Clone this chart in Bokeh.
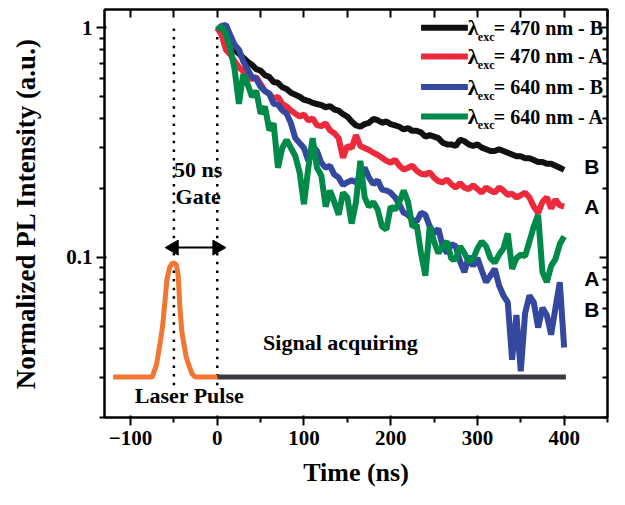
import math
import numpy as np
from bokeh.plotting import figure
from bokeh.models import (Range1d, FixedTicker, LinearAxis, LogAxis, Label)
from bokeh.embed import file_html
from bokeh.resources import INLINE

# ---------------- data ----------------
t = list(range(0, 401, 5))

b470 = [1.00, 0.95, 0.90, 0.86, 0.80, 0.77, 0.74, 0.71, 0.69, 0.66,
        0.65, 0.62, 0.61, 0.58, 0.575, 0.55, 0.54, 0.52, 0.51, 0.50,
        0.485, 0.48, 0.47, 0.465, 0.46, 0.45, 0.455, 0.44, 0.435, 0.42,
        0.41, 0.39, 0.375, 0.37, 0.38, 0.385, 0.40, 0.395, 0.385, 0.39,
        0.38, 0.375, 0.37, 0.36, 0.365, 0.355, 0.355, 0.35, 0.335, 0.34,
        0.335, 0.33, 0.315, 0.31, 0.31, 0.305, 0.325, 0.32, 0.31, 0.305,
        0.31, 0.30, 0.295, 0.29, 0.29, 0.295, 0.29, 0.285, 0.28, 0.275,
        0.275, 0.27, 0.27, 0.265, 0.26, 0.26, 0.255, 0.255, 0.25, 0.245,
        0.24]

a470 = [0.997, 0.93, 0.802, 0.764, 0.713, 0.672, 0.646, 0.609, 0.597, 0.609,
        0.568, 0.53, 0.515, 0.49, 0.50, 0.466, 0.453, 0.436, 0.422, 0.41,
        0.418, 0.394, 0.402, 0.376, 0.372, 0.383, 0.357, 0.347, 0.33, 0.271,
        0.305, 0.299, 0.34, 0.305, 0.299, 0.293, 0.285, 0.279, 0.271, 0.263,
        0.258, 0.266, 0.25, 0.241, 0.245, 0.25, 0.238, 0.231, 0.229, 0.234,
        0.222, 0.214, 0.212, 0.218, 0.2075, 0.201, 0.21, 0.201, 0.198, 0.2055,
        0.198, 0.191, 0.201, 0.195, 0.191, 0.201, 0.195, 0.187, 0.189, 0.182,
        0.186, 0.191, 0.182, 0.166, 0.156, 0.174, 0.182, 0.163, 0.178, 0.168,
        0.166]

b640 = [0.978, 1.017, 1.027, 0.93, 0.843, 0.802, 0.713, 0.659, 0.609, 0.597,
        0.552, 0.53, 0.515, 0.466, 0.462, 0.436, 0.422, 0.383, 0.33, 0.314,
        0.299, 0.263, 0.305, 0.29, 0.258, 0.245, 0.25, 0.229, 0.222, 0.206,
        0.212, 0.216, 0.212, 0.227, 0.245, 0.222, 0.208, 0.216, 0.197, 0.195,
        0.191, 0.182, 0.17, 0.156, 0.153, 0.145, 0.143, 0.156, 0.153, 0.136,
        0.127, 0.133, 0.1115, 0.104, 0.114, 0.1115, 0.0957, 0.086, 0.101, 0.0915,
        0.099, 0.0875, 0.0778, 0.083, 0.0889, 0.0752, 0.068, 0.0635, 0.0357, 0.0559,
        0.0318, 0.057, 0.068, 0.0635, 0.0493, 0.0601, 0.0559, 0.0459, 0.0601, 0.0778,
        0.0404]

a640 = [0.978, 1.017, 0.93, 0.818, 0.659, 0.466, 0.627, 0.568, 0.50, 0.53,
        0.422, 0.453, 0.357, 0.383, 0.245, 0.299, 0.324, 0.299, 0.276, 0.234,
        0.17, 0.245, 0.33, 0.245, 0.227, 0.166, 0.195, 0.174, 0.153, 0.191,
        0.182, 0.14, 0.174, 0.263, 0.182, 0.166, 0.174, 0.161, 0.136, 0.132,
        0.166, 0.161, 0.174, 0.195, 0.174, 0.136, 0.138, 0.104, 0.083, 0.136,
        0.117, 0.104, 0.1115, 0.117, 0.098, 0.098, 0.1115, 0.104, 0.0957, 0.098,
        0.109, 0.117, 0.1115, 0.099, 0.0945, 0.1025, 0.109, 0.127, 0.0889, 0.099,
        0.1025, 0.101, 0.117, 0.136, 0.153, 0.086, 0.0778, 0.0915, 0.098, 0.114,
        0.123]

pulse_t = [-120, -75, -70, -66, -63, -60, -58, -55, -52, -49,
           -47, -45, -43, -41, -39, -36, -33, -29, -25, 0]
pulse_y = [0.030, 0.030, 0.034, 0.042, 0.050, 0.066, 0.080, 0.090, 0.094, 0.094,
           0.092, 0.083, 0.060, 0.048, 0.043, 0.037, 0.034, 0.031, 0.030, 0.030]

acq_t = [0, 402]
acq_y = [0.030, 0.030]

gate_t = [-50, 0]
gate_lo, gate_hi = 0.028, 0.98
gate_arrow_y = 0.11

legend_labels = ["= 470 nm - B", "= 470 nm - A", "= 640 nm - B", "= 640 nm - A"]
legend_y = [1.0, 0.749, 0.551, 0.41]
series = [b470, a470, b640, a640]
colors = ["#111111", "#ec2a3c", "#3548a0", "#008a4a"]
widths = [6, 6, 6, 6]

ab_text = ["B", "A", "A", "B"]
ab_y = [0.248, 0.166, 0.0806, 0.0592]

x_ticks = [-100, 0, 100, 200, 300, 400]
x_minor = [-150, -50, 50, 150, 250, 350, 450]
y_ticks = [0.1, 1]
y_minor = [0.02, 0.03, 0.04, 0.05, 0.06, 0.07, 0.08, 0.09,
           0.2, 0.3, 0.4, 0.5, 0.6, 0.7, 0.8, 0.9]

SERIF = "Liberation Serif"

# ---------------- figure ----------------
p = figure(width=609, height=489, x_range=Range1d(-130, 450), y_range=Range1d(0.02, 1.2),
           y_axis_type="log", output_backend="svg", toolbar_location=None,
           min_border_left=104, min_border_right=2, min_border_top=9, min_border_bottom=69)
p.grid.visible = False
p.outline_line_color = "black"
p.outline_line_width = 2

p.xaxis.ticker = FixedTicker(ticks=x_ticks, minor_ticks=x_minor)
p.yaxis.ticker = FixedTicker(ticks=y_ticks, minor_ticks=y_minor)
p.yaxis.major_label_overrides = {0.1: "0.1", 1: "1"}
p.xaxis.axis_label = "Time (ns)"
p.yaxis.axis_label = "Normalized PL Intensity (a.u.)"
p.axis.axis_line_width = 2
p.axis.major_tick_line_width = 2
p.axis.minor_tick_line_width = 2
p.axis.major_tick_out = 8
p.axis.minor_tick_out = 5
p.axis.major_label_text_font = SERIF
p.axis.major_label_text_font_style = "bold"
p.axis.major_label_text_font_size = "21px"
p.axis.major_label_text_color = "black"
p.axis.axis_label_text_font = SERIF
p.axis.axis_label_text_font_style = "bold"
p.axis.axis_label_text_color = "black"
p.xaxis.axis_label_text_font_size = "26px"
p.yaxis.axis_label_text_font_size = "27px"
p.xaxis.major_label_standoff = 5
p.xaxis.axis_label_standoff = 10
p.yaxis.major_label_standoff = 4
p.yaxis.axis_label_standoff = 22

top = LinearAxis(ticker=FixedTicker(ticks=x_ticks + x_minor))
right = LogAxis(ticker=FixedTicker(ticks=y_ticks, minor_ticks=y_minor))
for ax in [top, right]:
    ax.axis_line_width = 2
    ax.major_tick_line_width = 2
    ax.minor_tick_line_width = 2
    ax.major_tick_out = 0
    ax.major_tick_in = 8
    ax.minor_tick_out = 0
    ax.minor_tick_in = 5
    ax.major_label_text_color = None
    ax.major_label_standoff = 0
p.add_layout(top, "above")
p.add_layout(right, "right")

# gate dotted lines drawn as evenly spaced dots
dot_y = np.geomspace(gate_lo, gate_hi, 42)
for gx in gate_t:
    p.scatter(x=[gx] * len(dot_y), y=dot_y, marker="square", size=2.5,
              fill_color="black", line_color=None)

# decay curves
for ys, c, w in zip(series, colors, widths):
    p.line(t, ys, line_color=c, line_width=w)

# laser pulse and acquisition bar
p.line(acq_t, acq_y, line_color="#3a3a40", line_width=5)
p.line(pulse_t, pulse_y, line_color="#f07632", line_width=5)

# gate double arrow (shaft + two triangular heads)
p.line(gate_t, [gate_arrow_y, gate_arrow_y], line_color="black", line_width=2)
p.scatter(x=gate_t, y=[gate_arrow_y, gate_arrow_y], marker="triangle", size=15,
          angle=[math.pi / 2, -math.pi / 2], fill_color="black", line_color="black")


def add_label(x, y, text, size, font=SERIF, align="center", x_offset=0):
    p.add_layout(Label(x=x, y=y, text=text, text_font=font, text_font_style="bold",
                       text_font_size=size, text_align=align, text_baseline="middle",
                       text_color="black", x_offset=x_offset))


add_label(-22, 0.2407, "50 ns", "22px")
add_label(-22, 0.1845, "Gate", "22px")
add_label(142, 0.0424, "Signal acquiring", "22px")
add_label(-32, 0.0249, "Laser Pulse", "22px")
for txt, yy in zip(ab_text, ab_y):
    add_label(432, yy, txt, "21px", font="Liberation Sans")

# manual legend
for lab, ly, c in zip(legend_labels, legend_y, colors):
    p.line([235, 289], [ly, ly], line_color=c, line_width=6)
    add_label(289, ly, "λ", "22px", align="left")
    add_label(289, ly * 0.914, "exc", "12px", align="left", x_offset=10)
    add_label(289, ly, lab, "20px", align="left", x_offset=26)

open("out.html", "w").write(file_html(p, INLINE))
